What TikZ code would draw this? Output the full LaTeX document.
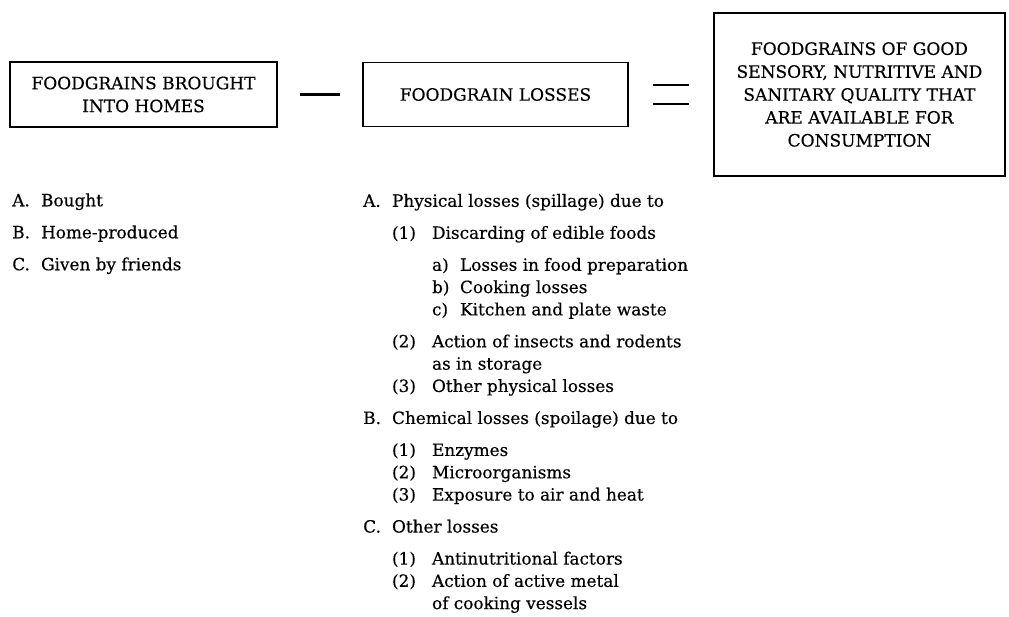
\documentclass[tikz,border=0pt]{standalone}
\usepackage{fontspec}
\setmainfont{DejaVu Serif}[FakeBold=0.4]
\usepackage{xcolor}
\usepackage{tikz}
\usetikzlibrary{calc,positioning}

\newcommand{\itemA}[2]{\makebox[.72cm][l]{#1}#2}
\newcommand{\itemB}[2]{\hspace*{.72cm}\makebox[1cm][l]{#1}#2}
\newcommand{\itemC}[2]{\hspace*{1.72cm}\makebox[.7cm][l]{#1}#2}

\begin{document}
\begin{tikzpicture}[
        box/.style={draw, line width=1.4pt, align=center, inner sep=0pt, font=\fontsize{12.1}{16.3}\selectfont},
        list/.style={align=left, inner sep=0pt, font=\fontsize{12}{15.86}\selectfont},
        sign/.style={line width=1.7pt}
    ]
        \useasboundingbox (0,0) rectangle (25.225,-15.425);

        \node[box, minimum width=6.675cm, minimum height=1.625cm] (brought) at (3.5875,-2.3625) {FOODGRAINS BROUGHT\\INTO HOMES};
        \node[box, minimum width=6.625cm, minimum height=1.6cm, right=2.1cm of brought] (losses) {FOODGRAIN LOSSES};
        \node[box, minimum width=7.275cm, minimum height=4.075cm, right=2.1cm of losses] (available) {FOODGRAINS OF GOOD\\SENSORY, NUTRITIVE AND\\SANITARY QUALITY THAT\\ARE AVAILABLE FOR\\CONSUMPTION};

        \coordinate (minus) at ($(brought.east)!0.5!(losses.west)$);
        \coordinate (equals) at ($(losses.east)!0.5!(available.west)$);
        \draw[sign] ([xshift=-0.5cm]minus) -- ([xshift=0.5cm]minus);
        \draw[sign] ([xshift=-0.45cm,yshift=0.24cm]equals) -- ([xshift=0.45cm,yshift=0.24cm]equals);
        \draw[sign] ([xshift=-0.45cm,yshift=-0.24cm]equals) -- ([xshift=0.45cm,yshift=-0.24cm]equals);

        \node[list, below right=1.63cm and 0.075cm of brought.south west] (sources) {%
            \itemA{A.}{Bought}\\[0.2425cm]
            \itemA{B.}{Home-produced}\\[0.2425cm]
            \itemA{C.}{Given by friends}};
        \node[list, below right=1.655cm and 0.025cm of losses.south west] (kinds) {%
            \itemA{A.}{Physical losses (spillage) due to}\\[0.2425cm]
            \itemB{(1)}{Discarding of edible foods}\\[0.2425cm]
            \itemC{a)}{Losses in food preparation}\\
            \itemC{b)}{Cooking losses}\\
            \itemC{c)}{Kitchen and plate waste}\\[0.2425cm]
            \itemB{(2)}{Action of insects and rodents}\\
            \itemB{}{as in storage}\\
            \itemB{(3)}{Other physical losses}\\[0.2425cm]
            \itemA{B.}{Chemical losses (spoilage) due to}\\[0.2425cm]
            \itemB{(1)}{Enzymes}\\
            \itemB{(2)}{Microorganisms}\\
            \itemB{(3)}{Exposure to air and heat}\\[0.2425cm]
            \itemA{C.}{Other losses}\\[0.2425cm]
            \itemB{(1)}{Antinutritional factors}\\
            \itemB{(2)}{Action of active metal}\\
            \itemB{}{of cooking vessels}};
    \end{tikzpicture}
\end{document}
